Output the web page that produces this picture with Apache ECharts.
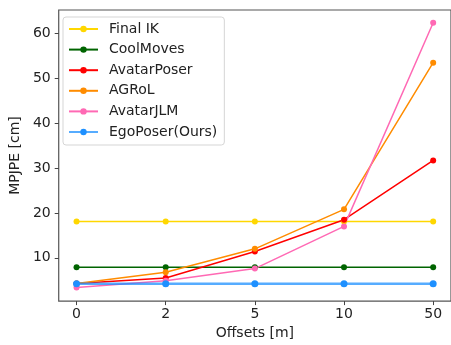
<!DOCTYPE html>
<html><head><meta charset="utf-8">
<script src="https://cdn.jsdelivr.net/npm/echarts@6/dist/echarts.min.js"></script>
<style>html,body{margin:0;padding:0;background:#fff}#c{width:451px;height:345px}</style>
</head><body><div id="c"></div>
<script>
const categories = ['0', '2', '5', '10', '50'];
const yTicks = [10, 20, 30, 40, 50, 60];
const finalIK = [18.1, 18.1, 18.1, 18.1, 18.1];
const coolMoves = [7.9, 7.9, 7.9, 7.9, 7.9];
const avatarPoser = [4.3, 5.5, 11.4, 18.5, 31.7];
const agrol = [4.3, 6.8, 12.0, 20.8, 53.5];
const avatarJLM = [3.4, 4.9, 7.6, 17.0, 62.4];
const egoPoser = [4.2, 4.2, 4.2, 4.2, 4.2];

const names = ['Final IK', 'CoolMoves', 'AvatarPoser', 'AGRoL', 'AvatarJLM', 'EgoPoser(Ours)'];
const colors = ['#FFD700', '#006400', '#FF0000', '#FF8C00', '#FF69B4', '#1E90FF'];
const datasets = [finalIK, coolMoves, avatarPoser, agrol, avatarJLM, egoPoser];
const font = 'DejaVu Sans';
const idx = categories.map((_, i) => i);

const series = datasets.map((d, k) => ({
  name: names[k],
  type: 'line',
  data: d.map((v, i) => [i, v]),
  symbol: 'circle',
  symbolSize: k === 5 ? 7 : 6,
  lineStyle: { color: colors[k], width: k === 5 ? 2.5 : 1.5, opacity: k === 5 ? 0.75 : 1 },
  itemStyle: { color: colors[k] },
  emphasis: { disabled: true },
  animation: false
}));

const chart = echarts.init(document.getElementById('c'), null, { renderer: 'canvas' });
chart.setOption({
  animation: false,
  grid: { left: 56, top: 10, right: 0, bottom: 40.5, show: true, borderColor: '#555', borderWidth: 1.2, backgroundColor: 'transparent' },
  legend: {
    orient: 'vertical', left: 63, top: 17,
    data: names,
    itemWidth: 29, itemHeight: 8, itemGap: 6.6,
    padding: [5, 7, 6, 5],
    borderColor: '#d5d5d5', borderWidth: 1, borderRadius: 3,
    backgroundColor: 'rgba(255,255,255,0.8)',
    textStyle: { fontFamily: font, fontSize: 14, color: '#222', padding: [0, 0, 0, 6], lineHeight: 14 }
  },
  xAxis: {
    type: 'value', min: -0.2, max: 4.2,
    name: 'Offsets [m]', nameLocation: 'middle', nameGap: 21,
    nameTextStyle: { fontFamily: font, fontSize: 14, color: '#222' },
    axisLine: { show: false, onZero: false },
    axisTick: { show: true, length: 4, lineStyle: { color: '#444' }, customValues: idx },
    axisLabel: { fontFamily: font, fontSize: 14, color: '#222', margin: 6, customValues: idx, formatter: v => categories[Math.round(v)] },
    splitLine: { show: false }
  },
  yAxis: {
    type: 'value', min: 0.35, max: 65.25,
    name: 'MPJPE [cm]', nameLocation: 'middle', nameGap: 27,
    nameTextStyle: { fontFamily: font, fontSize: 14, color: '#222' },
    axisLine: { show: false, onZero: false },
    axisTick: { show: true, length: 4, lineStyle: { color: '#444' }, customValues: yTicks },
    axisLabel: { fontFamily: font, fontSize: 14, color: '#222', margin: 8, customValues: yTicks },
    splitLine: { show: false }
  },
  series
});
</script></body></html>
